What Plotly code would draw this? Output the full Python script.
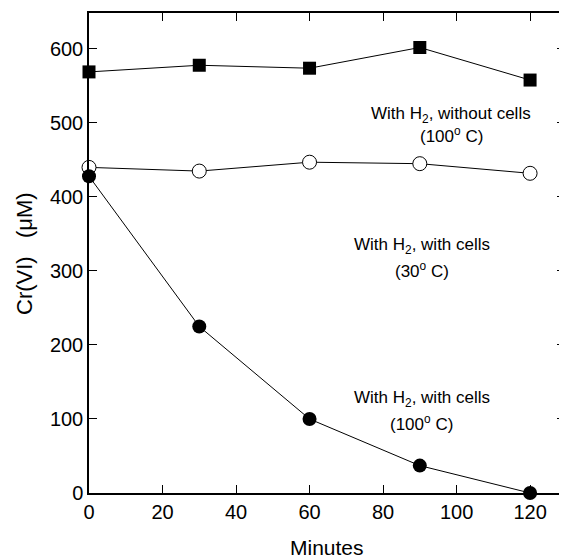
import plotly.graph_objects as go

minutes = [0, 30, 60, 90, 120]
no_cells_100 = [569, 578, 574, 602, 558]
cells_30 = [440, 435, 447, 445, 432]
cells_100 = [428, 225, 100, 37, 0]

x_ticks = [0, 20, 40, 60, 80, 100, 120]
y_ticks = [0, 100, 200, 300, 400, 500, 600]

FONT = "Liberation Sans, Arial, sans-serif"

fig = go.Figure()
line = dict(color="black", width=1)
fig.add_trace(go.Scatter(x=minutes, y=no_cells_100, mode="lines+markers", line=line,
                         marker=dict(symbol="square", size=13, color="black"), cliponaxis=False))
fig.add_trace(go.Scatter(x=minutes, y=cells_30, mode="lines+markers", line=line,
                         marker=dict(symbol="circle", size=14, color="white",
                                     line=dict(color="black", width=1)), cliponaxis=False))
fig.add_trace(go.Scatter(x=minutes, y=cells_100, mode="lines+markers", line=line,
                         marker=dict(symbol="circle", size=14, color="black"), cliponaxis=False))

ann_font = dict(family=FONT, size=17, color="black")
annots = [
    (98.5, 511, "With H<sub>2</sub>, without cells"),
    (98.5, 484, "(100<sup>o</sup> C)"),
    (90.5, 334, "With H<sub>2</sub>, with cells"),
    (90.5, 302, "(30<sup>o</sup> C)"),
    (90.5, 127, "With H<sub>2</sub>, with cells"),
    (90.5, 95, "(100<sup>o</sup> C)"),
]
for ax, ay, t in annots:
    fig.add_annotation(x=ax, y=ay, text=t, showarrow=False, font=ann_font,
                       xanchor="center", yanchor="middle")

# axis titles
fig.add_annotation(x=64.8, y=0, xref="x", yref="paper", text="Minutes", showarrow=False,
                   font=dict(family=FONT, size=21, color="black"),
                   xanchor="center", yanchor="top", yshift=-41)
fig.add_annotation(x=0, y=323, xref="paper", yref="y", text="Cr(VI)\u00a0\u00a0 (μM)",
                   showarrow=False, textangle=-90,
                   font=dict(family=FONT, size=22, color="black"),
                   xanchor="center", yanchor="middle", xshift=-64)

axis_common = dict(showgrid=False, zeroline=False, showline=True, linecolor="black",
                   linewidth=1.5, ticks="inside", ticklen=8, tickwidth=1,
                   tickcolor="black", mirror="allticks",
                   tickfont=dict(family=FONT, size=20, color="black"))

fig.update_xaxes(range=[0, 129.5], tickvals=x_ticks, **axis_common)
fig.update_yaxes(range=[0, 648.6], tickvals=y_ticks, **axis_common)

fig.update_layout(width=559, height=550, showlegend=False,
                  margin=dict(l=81, r=0, t=5, b=65),
                  plot_bgcolor="white", paper_bgcolor="white")

fig.write_html("out.html")
